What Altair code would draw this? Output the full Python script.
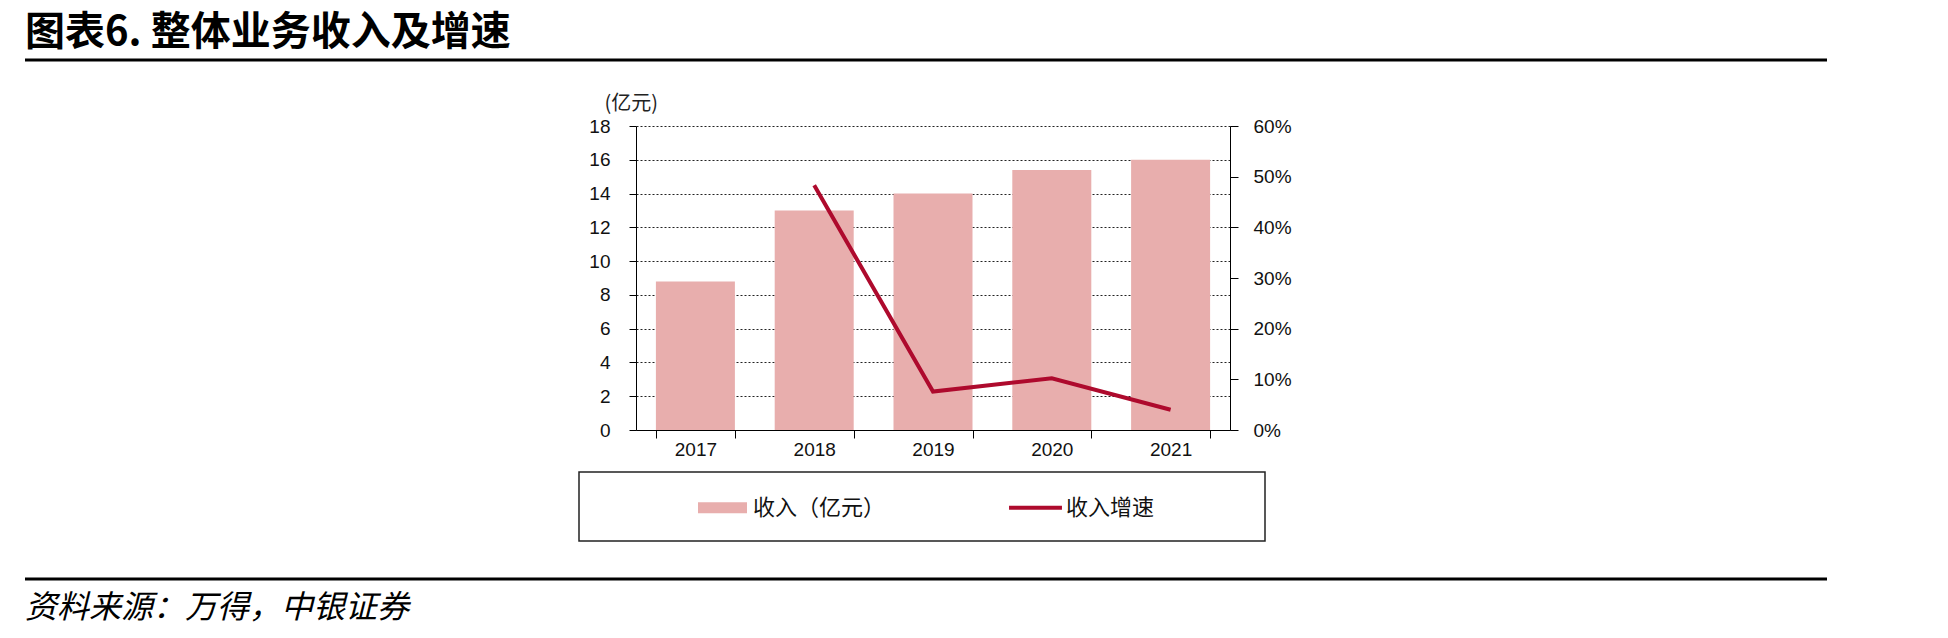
import altair as alt
import pandas as pd

# ---- data -------------------------------------------------------------
years = ["2017", "2018", "2019", "2020", "2021"]
revenue = [8.8, 13.0, 14.0, 15.4, 16.0]            # 收入，亿元
growth = [None, 0.483, 0.076, 0.102, 0.040]        # 收入同比增速

series_names = ["收入（亿元）", "收入增速"]
left_ticks = [0, 2, 4, 6, 8, 10, 12, 14, 16, 18]
right_ticks = [0, 0.1, 0.2, 0.3, 0.4, 0.5, 0.6]

title_text = "图表6. 整体业务收入及增速"
source_text = "资料来源：万得，中银证券"
unit_text = "(亿元)"

# ---- styling ----------------------------------------------------------
BAR_COLOR = "#E8AEAD"
LINE_COLOR = "#AE0A2D"
SANS = "Liberation Sans"
CJK = "Noto Sans CJK SC"

W, H = 594, 304              # plot area
LEFT, TOP = 636, 126         # plot origin on the page
PAGE_W, PAGE_H = 1948, 638

df = pd.DataFrame({"year": years, "revenue": revenue, "growth": growth})
legend_df = pd.DataFrame({"series": series_names})

x_enc = alt.X(
    "year:N",
    title=None,
    sort=years,
    scale=alt.Scale(paddingInner=0.335, paddingOuter=0.1675),
    axis=alt.Axis(
        tickBand="extent", labelAngle=0, labelFont=SANS, labelFontSize=19,
        labelColor="#111", labelPadding=2, tickSize=8, tickColor="#000",
        domainColor="#000", grid=False,
    ),
)

bars = alt.Chart(df).mark_bar(color=BAR_COLOR).encode(
    x=x_enc,
    y=alt.Y(
        "revenue:Q",
        scale=alt.Scale(domain=[0, 18], nice=False),
        axis=alt.Axis(
            values=left_ticks, title=unit_text, titleAngle=0, titleX=-32, titleY=-23,
            titleAlign="left", titleBaseline="middle", titleFont=CJK, titleFontSize=20,
            titleFontWeight="normal", titleColor="#222",
            labelFont=SANS, labelFontSize=19, labelColor="#111", labelPadding=19,
            tickSize=7, tickColor="#000", domainColor="#000",
            grid=True, gridColor="#222", gridDash=[2, 2], gridWidth=1,
        ),
    ),
)

line = alt.Chart(df).mark_line(color=LINE_COLOR, strokeWidth=4).encode(
    x=x_enc,
    y=alt.Y(
        "growth:Q",
        scale=alt.Scale(domain=[0, 0.6], nice=False),
        axis=alt.Axis(
            orient="right", values=right_ticks, format=".0%", title=None,
            labelFont=SANS, labelFontSize=19, labelColor="#111", labelPadding=15,
            tickSize=8, tickColor="#000", domainColor="#000", grid=False,
        ),
    ),
)

# legend entries: a wide swatch for the bars, a thin bar for the line
rect_path = "M-1,-0.224L1,-0.224L1,0.224L-1,0.224Z"
stroke_path = "M-1.08,-0.08L1.08,-0.08L1.08,0.08L-1.08,0.08Z"

legend_def = alt.Legend(
    title=None, orient="none", legendX=62, legendY=357, direction="horizontal",
    symbolSize=2401, symbolOpacity=1, symbolStrokeWidth=0,
    labelFont=CJK, labelFontSize=22, labelColor="#111", labelOffset=6,
    columnPadding=123, padding=0,
)

legend_layer = alt.Chart(legend_df).mark_point(filled=True, opacity=0).encode(
    color=alt.Color("series:N", scale=alt.Scale(domain=series_names, range=[BAR_COLOR, LINE_COLOR]),
                    legend=legend_def),
    shape=alt.Shape("series:N", scale=alt.Scale(domain=series_names, range=[rect_path, stroke_path]),
                    legend=legend_def),
)

one = pd.DataFrame({"k": [0]})

legend_frame = alt.Chart(one).mark_rect(fillOpacity=0, stroke="#222", strokeWidth=1.5).encode(
    x=alt.value(579 - LEFT), x2=alt.value(1265 - LEFT),
    y=alt.value(472 - TOP), y2=alt.value(541 - TOP),
)

top_rule = alt.Chart(one).mark_rule(color="#000", strokeWidth=3).encode(
    x=alt.value(25 - LEFT), x2=alt.value(1827 - LEFT), y=alt.value(60 - TOP),
)
bottom_rule = alt.Chart(one).mark_rule(color="#000", strokeWidth=3).encode(
    x=alt.value(25 - LEFT), x2=alt.value(1827 - LEFT), y=alt.value(579 - TOP),
)

title_mark = alt.Chart(pd.DataFrame({"t": [title_text]})).mark_text(
    align="left", baseline="middle", font=CJK, fontSize=40, fontWeight="bold", color="#000",
).encode(x=alt.value(25 - LEFT), y=alt.value(33 - TOP), text="t:N")

source_mark = alt.Chart(pd.DataFrame({"t": [source_text]})).mark_text(
    align="left", baseline="middle", font=CJK, fontSize=32, fontStyle="italic", color="#000",
).encode(x=alt.value(25 - LEFT), y=alt.value(608 - TOP), text="t:N")

chart = (
    alt.layer(bars, line, legend_layer, legend_frame, top_rule, bottom_rule, title_mark, source_mark)
    .resolve_scale(y="independent")
    .properties(
        width=W, height=H,
        padding={"left": LEFT, "top": TOP, "right": PAGE_W - LEFT - W, "bottom": PAGE_H - TOP - H},
        autosize=alt.AutoSizeParams(type="none"),
        background="#ffffff",
    )
    .configure_view(strokeWidth=0)
)

chart.save("out.html", embed_options={"renderer": "svg", "actions": False})
